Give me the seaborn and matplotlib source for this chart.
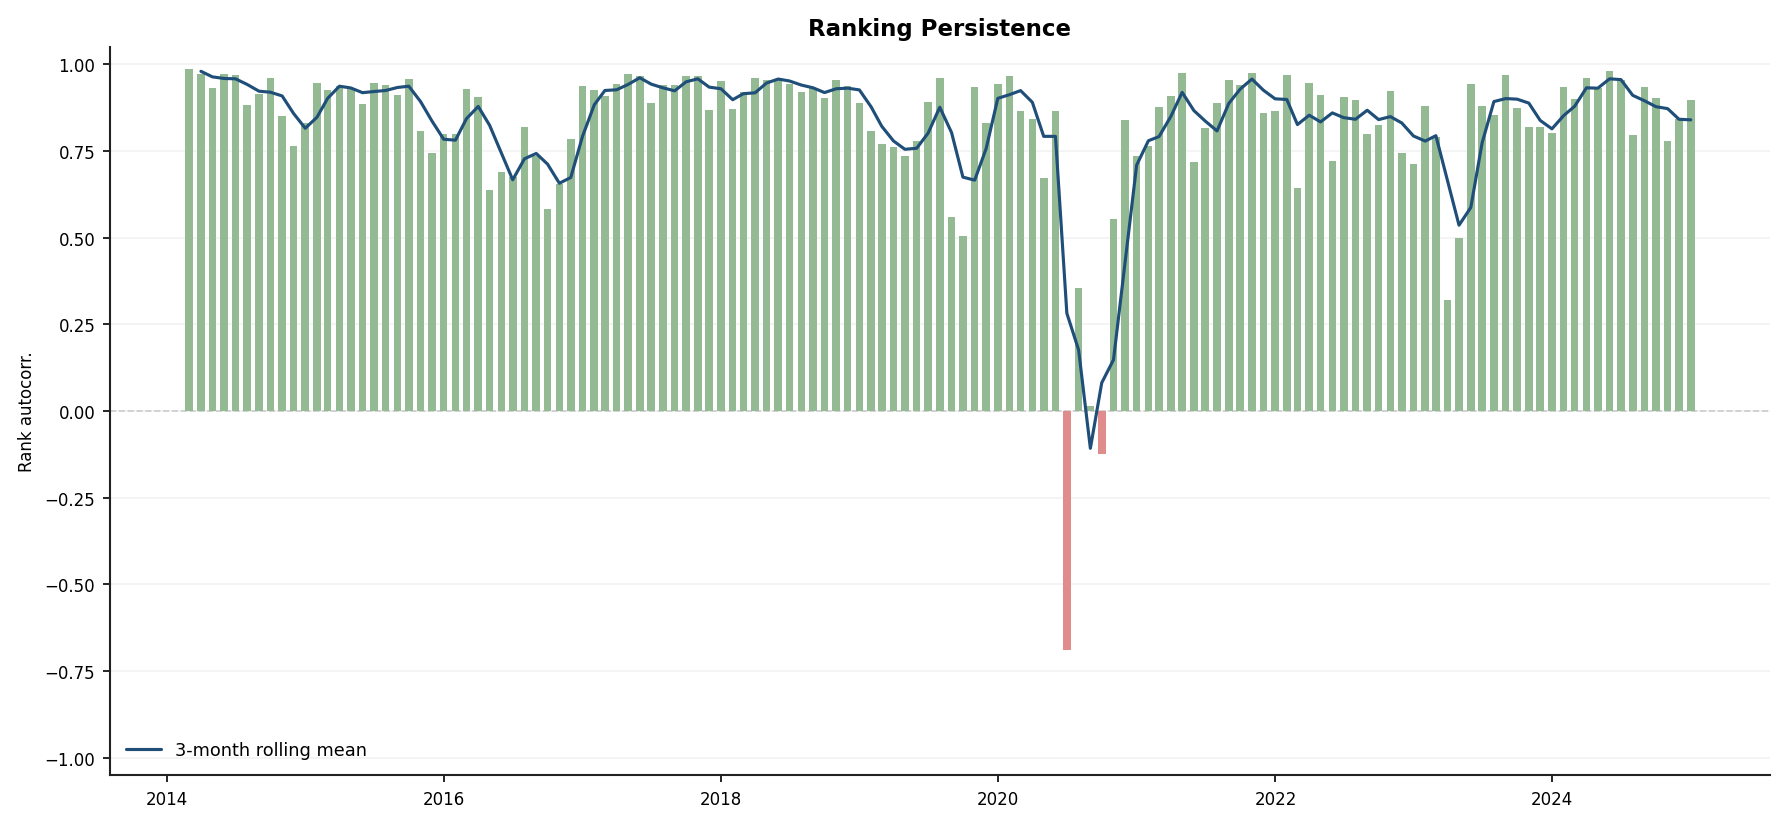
import pandas as pd
import numpy as np
import matplotlib
matplotlib.use("Agg")
import matplotlib.pyplot as plt
import seaborn as sns

# ── data: monthly rank autocorrelation (month-end) ──
START_MONTH = "2014-02-28"
rank_autocorr = [
    0.987, 0.973, 0.932, 0.973, 0.970, 0.883, 0.915, 0.961, 0.851, 0.764,
    0.832, 0.947, 0.927, 0.937, 0.932, 0.886, 0.947, 0.941, 0.912, 0.958,
    0.808, 0.744, 0.800, 0.800, 0.930, 0.906, 0.637, 0.689, 0.675, 0.819,
    0.735, 0.582, 0.654, 0.785, 0.938, 0.927, 0.909, 0.944, 0.973, 0.967,
    0.889, 0.941, 0.941, 0.967, 0.967, 0.869, 0.953, 0.872, 0.921, 0.961,
    0.956, 0.956, 0.944, 0.921, 0.932, 0.903, 0.954, 0.937, 0.888, 0.807,
    0.769, 0.761, 0.735, 0.778, 0.891, 0.960, 0.559, 0.505, 0.934, 0.830,
    0.942, 0.966, 0.865, 0.841, 0.671, 0.865, -0.690, 0.354, 0.013, -0.123,
    0.553, 0.840, 0.735, 0.764, 0.876, 0.908, 0.974, 0.718, 0.817, 0.889,
    0.956, 0.941, 0.976, 0.860, 0.866, 0.970, 0.643, 0.947, 0.912, 0.721,
    0.906, 0.898, 0.799, 0.825, 0.924, 0.744, 0.712, 0.880, 0.791, 0.319,
    0.498, 0.944, 0.880, 0.854, 0.970, 0.875, 0.820, 0.820, 0.802, 0.935,
    0.901, 0.961, 0.932, 0.982, 0.954, 0.796, 0.935, 0.903, 0.779, 0.843,
    0.898,
]
ROLL_WINDOW = 3

dates = pd.date_range(START_MONTH, periods=len(rank_autocorr), freq="ME")
df = pd.DataFrame({"date": dates, "autocorr": rank_autocorr})
df["rolling"] = df["autocorr"].rolling(ROLL_WINDOW, min_periods=2).mean()

# ── plot ──
sns.set_style("ticks")
plt.rcParams["font.family"] = ["DejaVu Sans"]
for key in ["text.color", "axes.labelcolor", "xtick.color", "ytick.color"]:
    plt.rcParams[key] = "black"
plt.rcParams["axes.edgecolor"] = "#222222"
plt.rcParams["axes.linewidth"] = 1.0

fig, ax = plt.subplots(figsize=(11.9, 5.4933), dpi=150)
fig.subplots_adjust(left=0.0616, right=0.9916, top=0.9417, bottom=0.0583)

bar_colors = np.where(df["autocorr"] >= 0, "#94ba94", "#e08c8c")
ax.bar(df["date"], df["autocorr"], width=20, color=bar_colors,
       linewidth=0, zorder=2)

sns.lineplot(data=df, x="date", y="rolling", ax=ax, color="#1f4e79",
             linewidth=1.5, label=f"{ROLL_WINDOW}-month rolling mean", zorder=3)

ax.axhline(0, color="#cccccc", linestyle="--", linewidth=0.8, zorder=1)

ax.set_ylim(-1.05, 1.05)
ax.set_yticks(np.arange(-1.0, 1.01, 0.25))
ax.yaxis.grid(True, color="#f2f2f2", linewidth=0.8, zorder=0)
ax.set_axisbelow(True)

ax.set_title("Ranking Persistence", fontsize=11, fontweight="bold")
ax.set_ylabel("Rank autocorr.", fontsize=8)
ax.set_xlabel("")
ax.tick_params(axis="both", labelsize=8)
sns.despine(ax=ax)

ax.legend(loc="lower left", frameon=False, fontsize=8.5)

plt.savefig("out.png", dpi=150)
